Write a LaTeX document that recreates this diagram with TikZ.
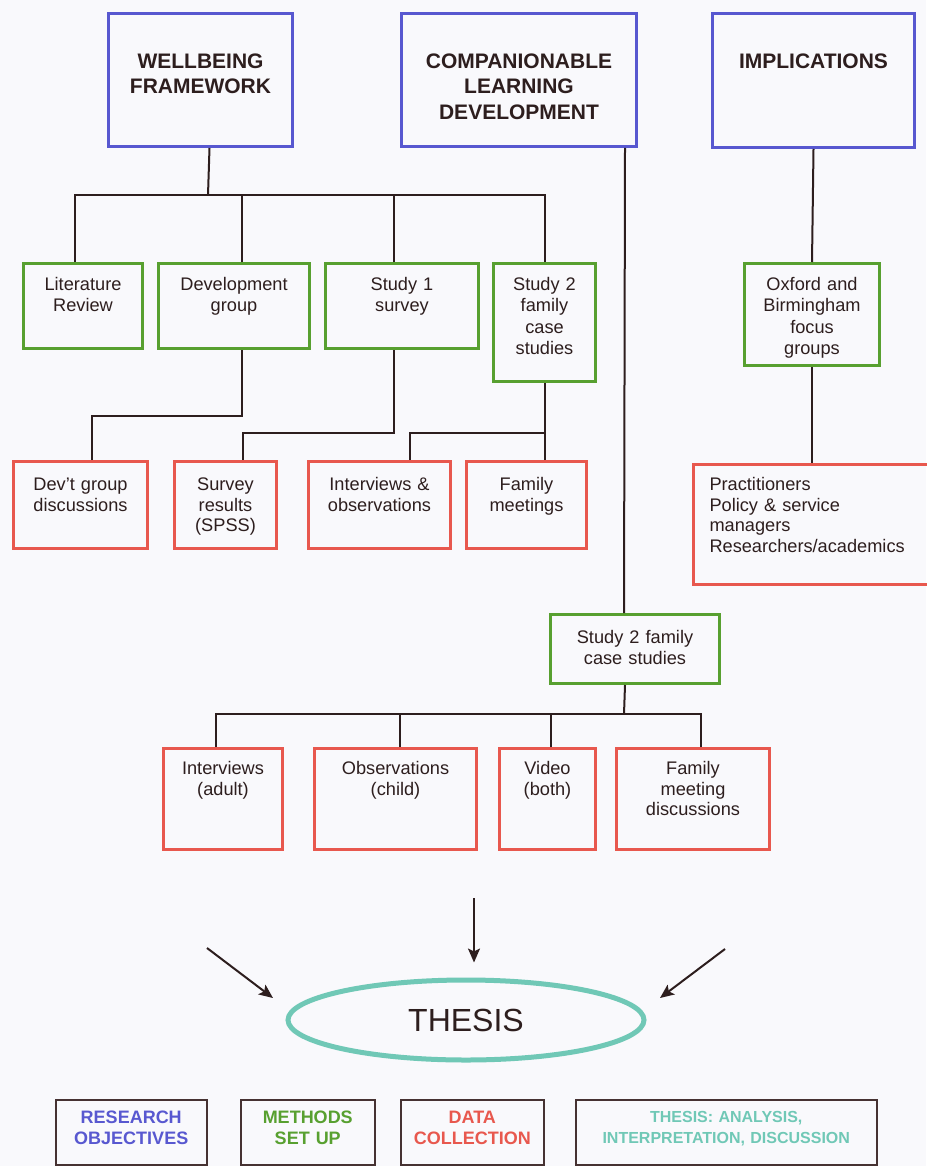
\documentclass[tikz,border=0pt]{standalone}
\usepackage{fontspec}
\setmainfont{Liberation Sans}
\usetikzlibrary{shapes.geometric, arrows.meta}

\definecolor{ink}{RGB}{45,30,30}
\definecolor{objblue}{RGB}{88,88,208}
\definecolor{methgreen}{RGB}{88,160,48}
\definecolor{datared}{RGB}{232,88,78}
\definecolor{thesteal}{RGB}{112,200,182}
\definecolor{paper}{RGB}{249,249,252}
\definecolor{frame}{RGB}{70,50,50}

\tikzset{
  cell/.style={draw, anchor=north west, inner sep=0pt, align=center, text=ink},
  aim/.style={cell, draw=objblue, line width=3pt, font=\fontsize{21}{25.5}\selectfont\bfseries, text height=55pt},
  method/.style={cell, draw=methgreen, line width=3pt, font=\fontsize{18.2}{21.3}\selectfont, text height=27pt},
  collect/.style={cell, draw=datared, line width=3pt, font=\fontsize{18.2}{20.7}\selectfont, text height=29pt},
  key/.style={cell, draw=frame, line width=1.5pt, font=\fontsize{18}{21}\selectfont\bfseries, text height=24pt},
  link/.style={draw=ink, line width=2pt},
  arr/.style={link, -{Stealth[length=14pt, width=12pt, inset=3pt]}}
}

\begin{document}
\begin{tikzpicture}[x=1pt, y=-1pt]
        \useasboundingbox (0,0) rectangle (926,1166);
        \fill[paper] (0,0) rectangle (926,1166);
        % aims
        \node[aim, text width=184pt, text depth=78pt] (wf) at (107,12) {WELLBEING\\FRAMEWORK};
        \node[aim, text width=235pt, text depth=78pt] (cld) at (400,12) {COMPANIONABLE\\LEARNING\\DEVELOPMENT};
        \node[aim, text width=202pt, text depth=79pt] (imp) at (711,12) {IMPLICATIONS};
        % methods
        \node[method, text width=119pt, text depth=58pt] (lit) at (22,262) {Literature\\Review};
        \node[method, text width=151pt, text depth=58pt] (dev) at (157,262) {Development\\group};
        \node[method, text width=153pt, text depth=58pt] (st1) at (324,262) {Study 1\\survey};
        \node[method, text width=102pt, text depth=91pt] (st2) at (492,262) {Study 2\\family\\case\\studies};
        \node[method, text width=135pt, text depth=75pt] (oxf) at (743,262) {Oxford and\\Birmingham\\focus\\groups};
        \node[method, text width=169pt, text height=29pt, text depth=40pt] (s2b) at (549,613) {Study 2 family\\case studies};
        % data
        \node[collect, text width=134pt, text depth=58pt] (dgd) at (12,460) {Dev’t group\\discussions};
        \node[collect, text width=102pt, text depth=58pt] (svr) at (173,460) {Survey\\results\\(SPSS)};
        \node[collect, text width=142pt, text depth=58pt] (int) at (307,460) {Interviews \&\\observations};
        \node[collect, text width=120pt, text depth=58pt] (fam) at (465,460) {Family\\meetings};
        \node[collect, align=left, inner xsep=16pt, text width=240pt, text height=26pt, text depth=94pt] (pra) at (692,463) {Practitioners\\Policy \& service\\managers\\Researchers/academics};
        \node[collect, text width=119pt, text height=26pt, text depth=75pt] (int2) at (162,747) {Interviews\\(adult)};
        \node[collect, text width=162pt, text height=26pt, text depth=75pt] (obs) at (313,747) {Observations\\(child)};
        \node[collect, text width=96pt, text height=26pt, text depth=75pt] (vid) at (498,747) {Video\\(both)};
        \node[collect, text width=153pt, text height=26pt, text depth=75pt] (fmd) at (615,747) {Family\\meeting\\discussions};
        % thesis
        \node[ellipse, draw=thesteal, line width=5pt, minimum width=356pt, minimum height=80pt, inner sep=0pt, text=ink, font=\fontsize{32}{38}\selectfont] (thesis) at (466,1020) {THESIS};
        % key
        \node[key, text=objblue, text width=151pt, text depth=41pt] (kro) at (55,1099) {RESEARCH\\OBJECTIVES};
        \node[key, text=methgreen, text width=134pt, text depth=41pt] (kms) at (240,1099) {METHODS\\SET UP};
        \node[key, text=datared, text width=143pt, text depth=41pt] (kdc) at (400,1099) {DATA\\COLLECTION};
        \node[key, text=thesteal, text width=301pt, text height=23pt, text depth=42pt, font=\fontsize{16}{20.5}\selectfont\bfseries] (kta) at (575,1099) {THESIS: ANALYSIS,\\INTERPRETATION, DISCUSSION};

        % links
        \coordinate (bus1) at (208,195);
        \draw[link] ([xshift=9pt]wf.south) -- (bus1);
        \draw[link] ([xshift=-8pt]lit.north) |- (bus1);
        \draw[link] ([xshift=8pt]dev.north) |- (bus1);
        \draw[link] ([xshift=-8pt]st1.north) |- (bus1);
        \draw[link] (st2.north) |- (bus1);
        \draw[link] ([xshift=-13pt]cld.south east) -- ([xshift=-11pt]s2b.north);
        \draw[link] (imp.south) -- (oxf.north);
        \draw[link] (oxf.south) -- (oxf.south |- pra.north);
        \draw[link] ([xshift=8pt]dev.south) -- ++(0,66) -| ([xshift=11pt]dgd.north);
        \draw[link] ([xshift=-8pt]st1.south) -- ++(0,83) -| ([xshift=17pt]svr.north);
        \draw[link] (st2.south) -- ++(0,50) -| ([xshift=30pt]int.north);
        \draw[link] (st2.south) -- (st2.south |- fam.north);
        \coordinate (bus2) at (624,714);
        \draw[link] ([xshift=-10pt]s2b.south) -- (bus2);
        \draw[link] ([xshift=-7pt]int2.north) |- (bus2);
        \draw[link] ([xshift=4pt]obs.north) |- (bus2);
        \draw[link] ([xshift=3pt]vid.north) |- (bus2);
        \draw[link] ([xshift=8pt]fmd.north) |- (bus2);
        % into the thesis
        \coordinate (fromL) at (207,948);
        \coordinate (toL) at (273,998);
        \coordinate (fromM) at (474,898);
        \coordinate (fromR) at (725,949);
        \coordinate (toR) at (660,998);
        \draw[arr] (fromL) -- (toL);
        \draw[arr, shorten >=15pt] (fromM) -- (fromM |- thesis.north);
        \draw[arr] (fromR) -- (toR);
\end{tikzpicture}
\end{document}
